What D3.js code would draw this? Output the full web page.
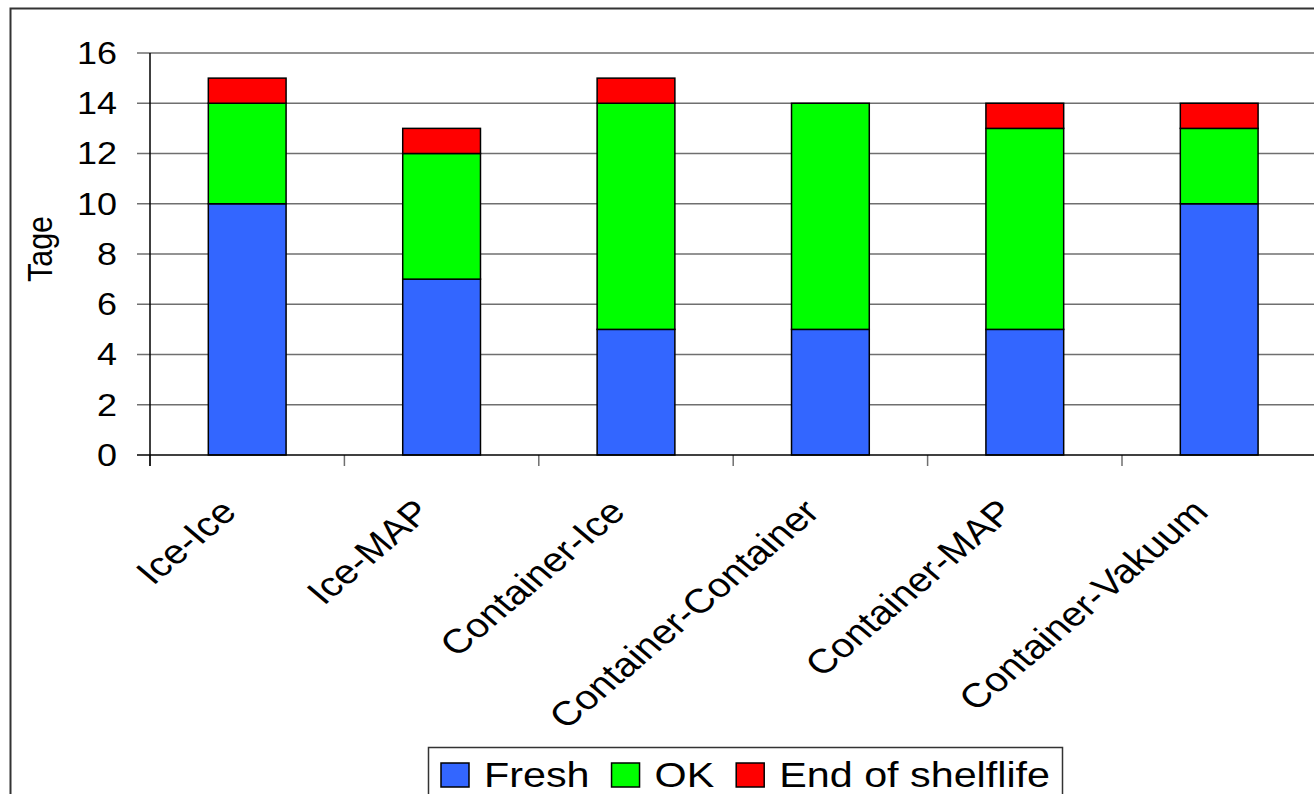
<!DOCTYPE html>
<html>
<head>
<meta charset="utf-8">
<script src="https://cdn.jsdelivr.net/npm/d3@7/dist/d3.min.js"></script>
<style>
  html, body { margin: 0; padding: 0; background: #fff; overflow: hidden; }
  svg { display: block; font-family: "Liberation Sans", Arial, sans-serif; }
</style>
</head>
<body>
<svg id="chart" width="1314" height="794"></svg>
<script>
// Shelf life per storage combination (days)
const categories = ["Ice-Ice", "Ice-MAP", "Container-Ice", "Container-Container", "Container-MAP", "Container-Vakuum"];
const fresh = [10, 7, 5, 5, 5, 10];
const ok = [4, 5, 9, 9, 8, 3];
const endOfShelflife = [1, 1, 1, 0, 1, 1];
const seriesNames = ["Fresh", "OK", "End of shelflife"];
const seriesColors = ["#3366FF", "#00FF00", "#FF0000"];
const yTicks = [0, 2, 4, 6, 8, 10, 12, 14, 16];
const yTitle = "Tage";

const svg = d3.select("#chart");
const SX = 1.18; // horizontal text stretch used throughout
const tickFont = 30.5;
const labelFont = 34;

const rows = categories.map((c, i) => ({ cat: c, Fresh: fresh[i], OK: ok[i], "End of shelflife": endOfShelflife[i] }));
const stacked = d3.stack().keys(seriesNames)(rows);

const x = d3.scaleBand().domain(categories).range([150, 1316.4]).padding(0);
const y = d3.scaleLinear().domain([0, 16]).range([455, 53]);
const barW = x.bandwidth() * 0.4;

// outer chart frame
svg.append("rect")
  .attr("x", 10.5).attr("y", 8.5).attr("width", 1400).attr("height", 900)
  .attr("fill", "none").attr("stroke", "#333").attr("stroke-width", 2);

// horizontal gridlines with left tick stubs
svg.append("g").selectAll("line").data(yTicks.filter(d => d > 0)).join("line")
  .attr("x1", 137).attr("x2", 1320)
  .attr("y1", d => y(d)).attr("y2", d => y(d))
  .attr("stroke", "#6f6f6f").attr("stroke-width", 1.5);

// x tick marks at category boundaries
const bounds = categories.map(c => x(c));
svg.append("g").selectAll("line").data(bounds).join("line")
  .attr("x1", d => d).attr("x2", d => d)
  .attr("y1", 455).attr("y2", 466)
  .attr("stroke", "#6f6f6f").attr("stroke-width", 1.5);

// stacked bars
const g = svg.append("g");
stacked.forEach((s, si) => {
  g.append("g").selectAll("rect").data(s.filter(d => d[1] - d[0] > 0)).join("rect")
    .attr("x", d => x(d.data.cat) + (x.bandwidth() - barW) / 2)
    .attr("width", barW)
    .attr("y", d => y(d[1]))
    .attr("height", d => y(d[0]) - y(d[1]))
    .attr("fill", seriesColors[si])
    .attr("stroke", "#000").attr("stroke-width", 1.5);
});

// axes lines
svg.append("line").attr("x1", 150).attr("x2", 150).attr("y1", 53).attr("y2", 466)
  .attr("stroke", "#000").attr("stroke-width", 1.5);
svg.append("line").attr("x1", 137).attr("x2", 1320).attr("y1", 455).attr("y2", 455)
  .attr("stroke", "#000").attr("stroke-width", 1.5);

// y tick labels
svg.append("g").selectAll("text").data(yTicks).join("text")
  .attr("transform", d => `translate(117,${y(d) + tickFont * 0.36}) scale(${SX},1)`)
  .attr("text-anchor", "end")
  .attr("font-size", tickFont)
  .attr("fill", "#000")
  .text(d => d);

// y axis title
svg.append("text")
  .attr("transform", `translate(52,249) scale(${SX},1) rotate(-90)`)
  .attr("text-anchor", "middle")
  .attr("font-size", tickFont)
  .text(yTitle);

// rotated category labels
svg.append("g").selectAll("text").data(categories).join("text")
  .attr("transform", d => `translate(${x(d) + x.bandwidth() / 2 - 9},514) scale(${SX},1) rotate(-45)`)
  .attr("text-anchor", "end")
  .attr("font-size", labelFont)
  .text(d => d);

// legend
const legFont = 35;
const leg = svg.append("g");
leg.append("rect").attr("x", 428.5).attr("y", 747.5).attr("width", 634).attr("height", 80)
  .attr("fill", "#fff").attr("stroke", "#333").attr("stroke-width", 1.5);
let lx = 441;
seriesNames.forEach((name, i) => {
  leg.append("rect").attr("x", lx).attr("y", 763).attr("width", 28).attr("height", 24)
    .attr("fill", seriesColors[i]).attr("stroke", "#000").attr("stroke-width", 1.5);
  const t = leg.append("text")
    .attr("transform", `translate(${lx + 43},787) scale(${SX},1)`)
    .attr("font-size", legFont)
    .text(name);
  const w = t.node().getComputedTextLength() * SX;
  lx = lx + 43 + w + 22;
});
</script>
</body>
</html>
